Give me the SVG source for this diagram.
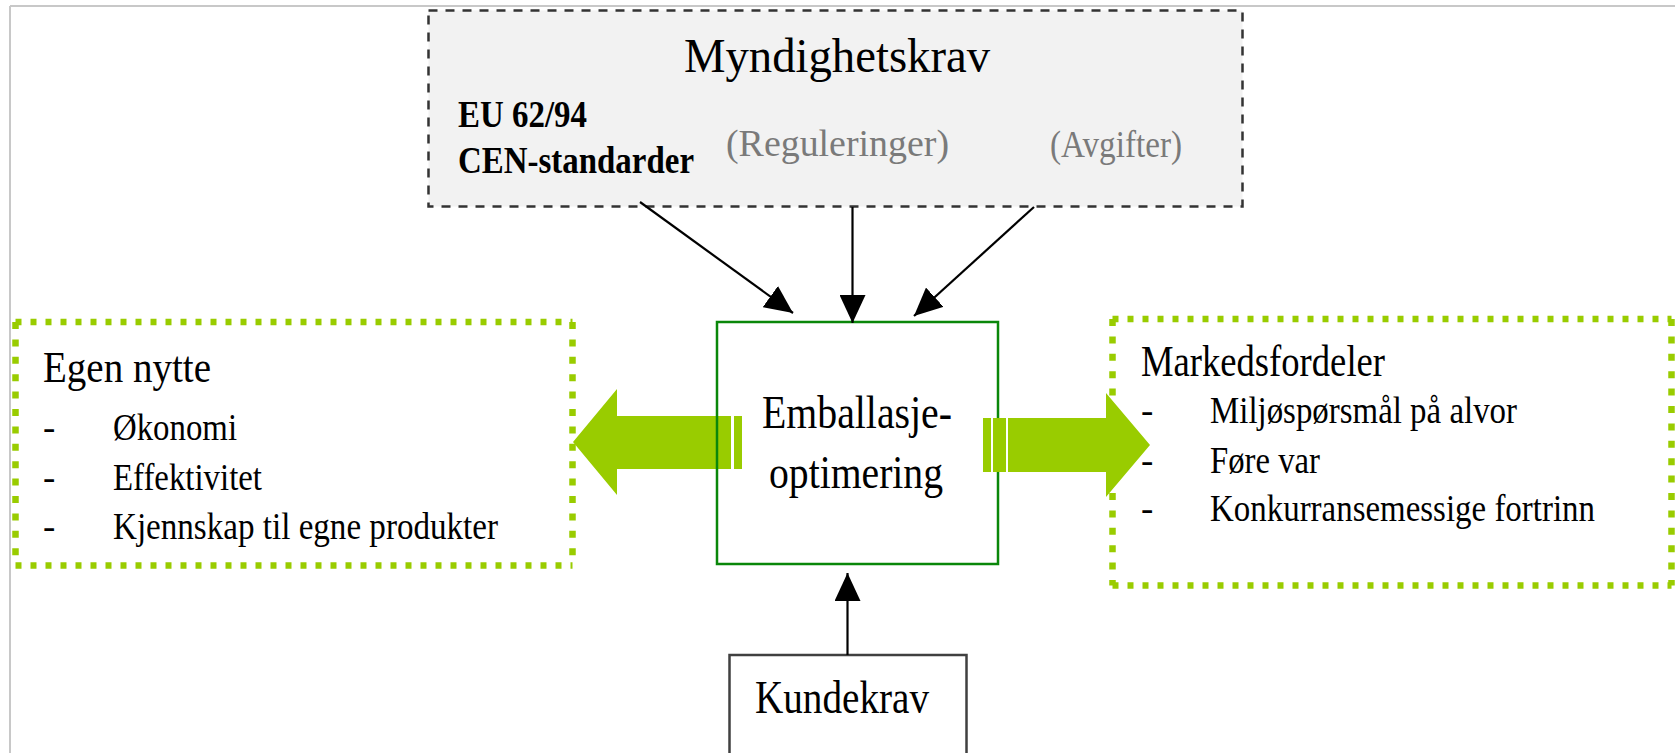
<svg xmlns="http://www.w3.org/2000/svg" width="1675" height="753" viewBox="0 0 1675 753">
<style>
text{font-family:"Liberation Serif","Times New Roman",serif;fill:#000}
.b{font-weight:bold}
.g{fill:#7a7a7a}
.dot{fill:none;stroke:#99cc00;stroke-width:6.5}
.conn{stroke:#000;stroke-width:2.2;fill:none;marker-end:url(#ah)}
.big{fill:#99cc00}
</style>
<defs>
<marker id="ah" markerUnits="userSpaceOnUse" markerWidth="28" markerHeight="26" viewBox="0 0 28 26" refX="28" refY="13" orient="auto">
<path d="M0,0 L28,13 L0,26 z" fill="#000"/>
</marker>
</defs>
<rect width="1675" height="753" fill="#fff"/>
<g id="page-border" stroke="#c8c8c8" stroke-width="2" fill="none">
<line x1="10" y1="6" x2="1675" y2="6"/>
<line x1="10" y1="6" x2="10" y2="753"/>
</g>

<g id="myndighetskrav">
<rect x="428.5" y="10.5" width="814" height="196" fill="#f2f2f2" stroke="#333" stroke-width="2.5" stroke-dasharray="9 8"/>
<text x="684" y="72" font-size="49" textLength="306" lengthAdjust="spacingAndGlyphs">Myndighetskrav</text>
<text class="b" x="458" y="127" font-size="38" textLength="129" lengthAdjust="spacingAndGlyphs">EU 62/94</text>
<text class="b" x="458" y="173" font-size="38" textLength="236" lengthAdjust="spacingAndGlyphs">CEN-standarder</text>
<text class="g" x="726" y="156" font-size="37" textLength="223" lengthAdjust="spacingAndGlyphs">(Reguleringer)</text>
<text class="g" x="1050" y="157" font-size="37" textLength="132" lengthAdjust="spacingAndGlyphs">(Avgifter)</text>
</g>

<g id="egen-nytte">
<path class="dot" d="M15.5,322 H572.5 M15.5,565.5 H572.5" stroke-dasharray="6 9"/>
<path class="dot" d="M15.5,322 V565.5 M572.5,322 V565.5" stroke-dasharray="7 10.4"/>
<text x="43" y="382" font-size="44" textLength="168" lengthAdjust="spacingAndGlyphs">Egen nytte</text>
<text x="43" y="440" font-size="37">-</text>
<text x="113" y="440" font-size="37" textLength="124" lengthAdjust="spacingAndGlyphs">Økonomi</text>
<text x="43" y="490" font-size="37">-</text>
<text x="113" y="490" font-size="37" textLength="149" lengthAdjust="spacingAndGlyphs">Effektivitet</text>
<text x="43" y="539" font-size="37">-</text>
<text x="113" y="539" font-size="37" textLength="385" lengthAdjust="spacingAndGlyphs">Kjennskap til egne produkter</text>
</g>

<g id="markedsfordeler">
<path class="dot" d="M1112.5,319 H1671.5 M1112.5,585.5 H1671.5" stroke-dasharray="6 9"/>
<path class="dot" d="M1112.5,319 V585.5 M1671.5,319 V585.5" stroke-dasharray="7 10.4"/>
<text x="1141" y="376" font-size="44" textLength="244" lengthAdjust="spacingAndGlyphs">Markedsfordeler</text>
<text x="1141" y="423" font-size="37">-</text>
<text x="1210" y="423" font-size="37" textLength="307" lengthAdjust="spacingAndGlyphs">Miljøspørsmål på alvor</text>
<text x="1141" y="473" font-size="37">-</text>
<text x="1210" y="473" font-size="37" textLength="110" lengthAdjust="spacingAndGlyphs">Føre var</text>
<text x="1141" y="521" font-size="37">-</text>
<text x="1210" y="521" font-size="37" textLength="385" lengthAdjust="spacingAndGlyphs">Konkurransemessige fortrinn</text>
</g>

<g id="arrow-left">
<polygon class="big" points="573,442 617,389 617,416 731,416 731,469 617,469 617,495"/>
<rect class="big" x="734" y="416" width="8" height="53"/>
</g>

<g id="emballasjeoptimering">
<rect x="717" y="322" width="281" height="242" fill="none" stroke="#0a870a" stroke-width="2.5"/>
<text x="762" y="428" font-size="46" textLength="190" lengthAdjust="spacingAndGlyphs">Emballasje-</text>
<text x="769" y="488" font-size="46" textLength="174" lengthAdjust="spacingAndGlyphs">optimering</text>
</g>

<g id="arrow-right">
<rect class="big" x="983" y="418" width="8" height="54"/>
<rect class="big" x="993" y="418" width="13" height="54"/>
<polygon class="big" points="1008,418 1106,418 1106,393 1150,445 1106,497 1106,472 1008,472"/>
</g>

<g id="kundekrav">
<rect x="729.5" y="655" width="237" height="120" fill="#fff" stroke="#404040" stroke-width="2.5"/>
<text x="755" y="713" font-size="46" textLength="174" lengthAdjust="spacingAndGlyphs">Kundekrav</text>
</g>

<g id="connectors">
<line class="conn" x1="640" y1="202" x2="793" y2="313"/>
<line class="conn" x1="852.5" y1="207" x2="852.5" y2="323"/>
<line class="conn" x1="1034" y1="207" x2="914" y2="316"/>
<line class="conn" x1="847.5" y1="655" x2="847.5" y2="573"/>
</g>
</svg>
